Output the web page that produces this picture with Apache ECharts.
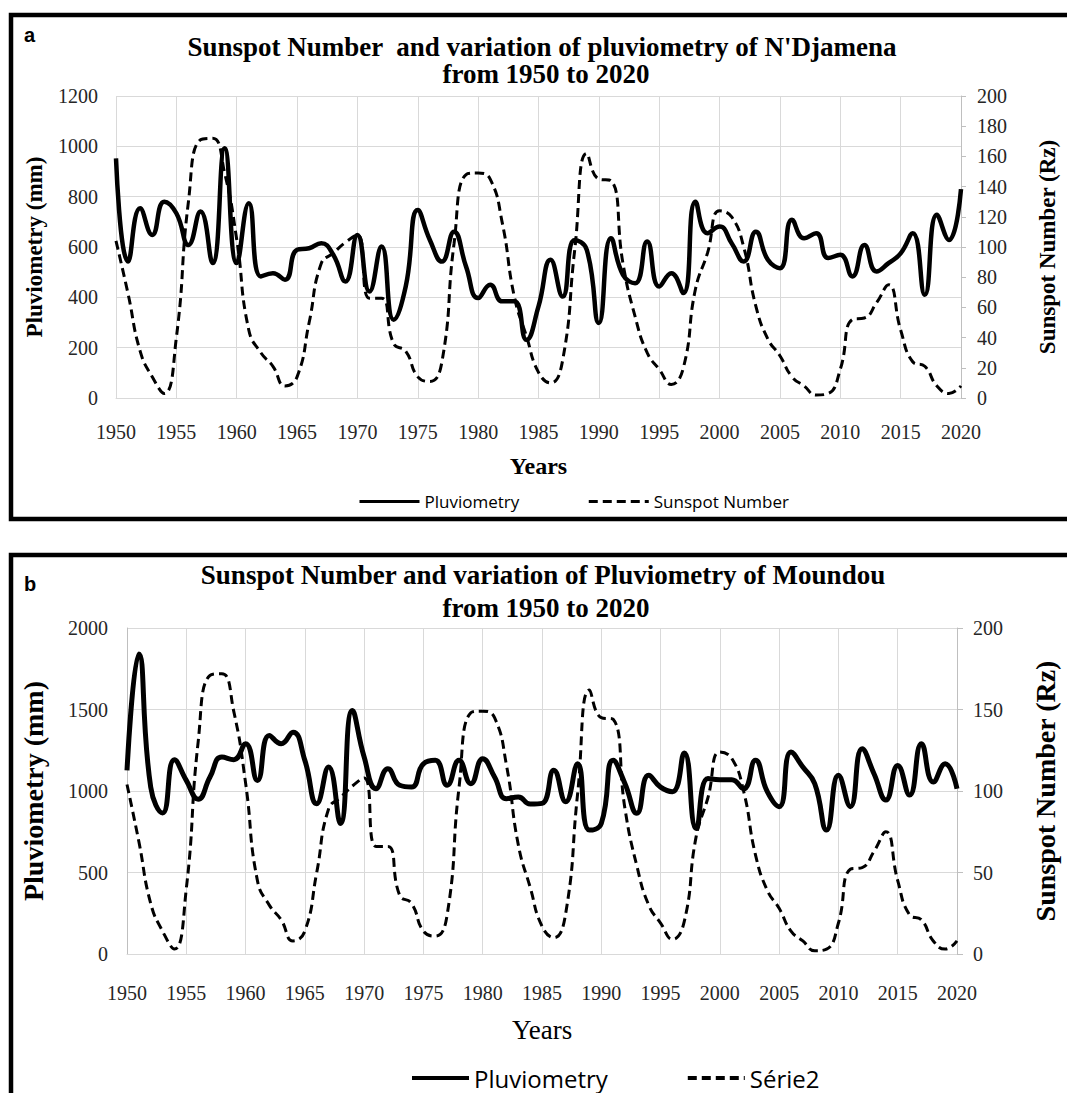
<!DOCTYPE html>
<html>
<head>
<meta charset="utf-8">
<script src="https://cdn.jsdelivr.net/npm/echarts@6/dist/echarts.min.js"></script>
<style>
  html, body { margin: 0; padding: 0; background: #fff; }
  #main { width: 1067px; height: 1093px; }
</style>
</head>
<body>
<div id="main"></div>
<script>
// years on the x axis
var years = ['1950', '1951', '1952', '1953', '1954', '1955', '1956', '1957', '1958', '1959',
  '1960', '1961', '1962', '1963', '1964', '1965', '1966', '1967', '1968', '1969',
  '1970', '1971', '1972', '1973', '1974', '1975', '1976', '1977', '1978', '1979',
  '1980', '1981', '1982', '1983', '1984', '1985', '1986', '1987', '1988', '1989',
  '1990', '1991', '1992', '1993', '1994', '1995', '1996', '1997', '1998', '1999',
  '2000', '2001', '2002', '2003', '2004', '2005', '2006', '2007', '2008', '2009',
  '2010', '2011', '2012', '2013', '2014', '2015', '2016', '2017', '2018', '2019',
  '2020']

// sunspot number (Rz), same curve in both panels
var sunspot = [104, 69, 31, 14, 3, 40, 130, 171, 172, 149,
  105, 45, 30, 21, 8, 14, 50, 89, 96, 103,
  108, 66, 66, 36, 31, 14, 11, 24, 102, 148,
  149, 145, 116, 67, 41, 17, 10, 25, 98, 162,
  145, 144, 89, 54, 30, 19, 9, 20, 72, 96,
  124, 120, 100, 61, 39, 28, 14, 8, 2, 3,
  19, 52, 53, 63, 75, 45, 24, 21, 8, 3,
  8]

// pluviometry N'Djamena (mm)
var pluvioNdjamena = [952, 542, 754, 648, 780, 734, 608, 741, 536, 992,
  536, 774, 483, 496, 470, 589, 595, 615, 569, 463,
  648, 423, 602, 311, 443, 747, 628, 542, 661, 522,
  397, 450, 384, 384, 231, 364, 549, 403, 628, 589,
  298, 635, 489, 456, 622, 443, 496, 417, 780, 655,
  681, 615, 542, 661, 549, 516, 708, 635, 655, 556,
  569, 483, 608, 503, 536, 575, 655, 410, 728, 628,
  830]

// pluviometry Moundou (mm)
var pluvioMoundou = [1127, 1841, 1024, 865, 1192, 1065, 950, 1086, 1208, 1192,
  1290, 1065, 1341, 1290, 1361, 1188, 922, 1147, 801, 1494,
  1208, 1014, 1137, 1035, 1024, 1167, 1188, 1035, 1188, 1045,
  1198, 1086, 953, 963, 920, 924, 1127, 934, 1167, 760,
  801, 1188, 1045, 863, 1096, 1024, 996, 1233, 770, 1076,
  1069, 1069, 1014, 1188, 996, 904, 1239, 1147, 1045, 760,
  1096, 904, 1259, 1106, 945, 1157, 975, 1290, 1055, 1167,
  1014]

var serif = 'Liberation Serif'
var gridColor = '#d9d9d9'
var labelColor = '#262626'

function plain(v) {
  return String(v) // no thousands separator, like the original
}

var chart = echarts.init(document.getElementById('main'), null, { renderer: 'svg' })

chart.setOption({
  backgroundColor: '#fff',
  animation: false,
  grid: [
    { left: 116, top: 96, width: 854, height: 302 },
    { left: 127, top: 628, width: 841, height: 326 }
  ],
  xAxis: [
    {
      gridIndex: 0,
      type: 'category',
      data: years,
      boundaryGap: false,
      axisLine: { lineStyle: { color: gridColor } },
      axisTick: { show: false },
      axisLabel: { interval: 4, margin: 24, color: labelColor, fontFamily: serif, fontSize: 20 },
      splitLine: { show: true, interval: 4, lineStyle: { color: gridColor } },
      name: 'Years',
      nameLocation: 'middle',
      nameGap: 56,
      nameTextStyle: { fontFamily: serif, fontWeight: 'bold', fontSize: 24, color: '#000' }
    },
    {
      gridIndex: 1,
      type: 'category',
      data: years,
      boundaryGap: false,
      axisLine: { lineStyle: { color: gridColor } },
      axisTick: { show: false },
      axisLabel: { interval: 4, margin: 29, color: labelColor, fontFamily: serif, fontSize: 20 },
      splitLine: { show: true, interval: 4, lineStyle: { color: gridColor } },
      name: 'Years',
      nameLocation: 'middle',
      nameGap: 62,
      nameTextStyle: { fontFamily: serif, fontSize: 27, color: '#000' }
    }
  ],
  yAxis: [
    {
      gridIndex: 0,
      type: 'value',
      min: 0,
      max: 1200,
      interval: 200,
      axisLine: { show: false },
      axisTick: { show: false },
      axisLabel: { margin: 18, color: labelColor, fontFamily: serif, fontSize: 20, formatter: plain },
      splitLine: { lineStyle: { color: gridColor } },
      name: 'Pluviometry (mm)',
      nameLocation: 'middle',
      nameRotate: 90,
      nameGap: 70,
      nameTextStyle: { fontFamily: serif, fontWeight: 'bold', fontSize: 23, color: '#000' }
    },
    {
      gridIndex: 0,
      type: 'value',
      position: 'right',
      min: 0,
      max: 200,
      interval: 20,
      axisLine: { show: true, lineStyle: { color: '#bfbfbf' } },
      axisTick: { show: true, length: 5, lineStyle: { color: '#bfbfbf' } },
      axisLabel: { margin: 16, color: labelColor, fontFamily: serif, fontSize: 20, formatter: plain },
      splitLine: { show: false },
      name: 'Sunspot Number (Rz)',
      nameLocation: 'middle',
      nameRotate: 90,
      nameGap: 75,
      nameTextStyle: { fontFamily: serif, fontWeight: 'bold', fontSize: 23, color: '#000' }
    },
    {
      gridIndex: 1,
      type: 'value',
      min: 0,
      max: 2000,
      interval: 500,
      axisLine: { show: true, lineStyle: { color: '#bfbfbf' } },
      axisTick: { show: false },
      axisLabel: { margin: 19, color: labelColor, fontFamily: serif, fontSize: 20, formatter: plain },
      splitLine: { lineStyle: { color: gridColor } },
      name: 'Pluviometry (mm)',
      nameLocation: 'middle',
      nameRotate: 90,
      nameGap: 80,
      nameTextStyle: { fontFamily: serif, fontWeight: 'bold', fontSize: 28, color: '#000' }
    },
    {
      gridIndex: 1,
      type: 'value',
      position: 'right',
      min: 0,
      max: 200,
      interval: 50,
      axisLine: { show: true, lineStyle: { color: '#bfbfbf' } },
      axisTick: { show: true, length: 6, lineStyle: { color: '#bfbfbf' } },
      axisLabel: { margin: 16, color: labelColor, fontFamily: serif, fontSize: 20, formatter: plain },
      splitLine: { show: false },
      name: 'Sunspot Number (Rz)',
      nameLocation: 'middle',
      nameRotate: 90,
      nameGap: 74,
      nameTextStyle: { fontFamily: serif, fontWeight: 'bold', fontSize: 28, color: '#000' }
    }
  ],
  legend: [
    {
      left: 353,
      top: 488,
      itemWidth: 60,
      itemHeight: 16,
      itemGap: 68,
      data: ['Pluviometry', 'Sunspot Number'],
      itemStyle: { opacity: 0 },
      lineStyle: { width: 3 },
      textStyle: { fontFamily: 'Open Sans', fontSize: 17, color: '#000' }
    },
    {
      left: 405,
      top: 1061,
      itemWidth: 57,
      itemHeight: 20,
      itemGap: 78,
      data: ['Pluviometry', 'Série2'],
      itemStyle: { opacity: 0 },
      lineStyle: { width: 4 },
      textStyle: { fontFamily: 'Open Sans', fontSize: 24, color: '#000' }
    }
  ],
  graphic: [
    // panel frames (right and lower sides run off the picture)
    { type: 'rect', shape: { x: 11, y: 15, width: 1070, height: 504 }, style: { fill: 'none', stroke: '#000', lineWidth: 4.5 }, silent: true },
    { type: 'rect', shape: { x: 11, y: 555, width: 1070, height: 600 }, style: { fill: 'none', stroke: '#000', lineWidth: 4.5 }, silent: true },
    { type: 'text', x: 24, y: 35, style: { text: 'a', fontFamily: 'Liberation Sans', fontWeight: 'bold', fontSize: 20, fill: '#000', verticalAlign: 'middle' } },
    { type: 'text', x: 24, y: 584, style: { text: 'b', fontFamily: 'Liberation Sans', fontWeight: 'bold', fontSize: 20, fill: '#000', verticalAlign: 'middle' } },
    { type: 'text', x: 542, y: 47, style: { text: 'Sunspot Number  and variation of pluviometry of N\'Djamena', fontFamily: serif, fontWeight: 'bold', fontSize: 27, fill: '#000', align: 'center', verticalAlign: 'middle' } },
    { type: 'text', x: 546, y: 74, style: { text: 'from 1950 to 2020', fontFamily: serif, fontWeight: 'bold', fontSize: 27, fill: '#000', align: 'center', verticalAlign: 'middle' } },
    { type: 'text', x: 543, y: 575, style: { text: 'Sunspot Number and variation of Pluviometry of Moundou', fontFamily: serif, fontWeight: 'bold', fontSize: 27, fill: '#000', align: 'center', verticalAlign: 'middle' } },
    { type: 'text', x: 546, y: 608, style: { text: 'from 1950 to 2020', fontFamily: serif, fontWeight: 'bold', fontSize: 27, fill: '#000', align: 'center', verticalAlign: 'middle' } }
  ],
  series: [
    {
      name: 'Sunspot Number',
      type: 'line',
      xAxisIndex: 0,
      yAxisIndex: 1,
      data: sunspot,
      smooth: 0.5,
      symbol: 'none',
      lineStyle: { color: '#000', width: 3, type: [9, 5] },
      itemStyle: { color: '#000' }
    },
    {
      name: 'Pluviometry',
      type: 'line',
      xAxisIndex: 0,
      yAxisIndex: 0,
      data: pluvioNdjamena,
      smooth: 0.5,
      symbol: 'none',
      lineStyle: { color: '#000', width: 4.5 },
      itemStyle: { color: '#000' }
    },
    {
      name: 'Série2',
      type: 'line',
      xAxisIndex: 1,
      yAxisIndex: 3,
      data: sunspot,
      smooth: 0.5,
      symbol: 'none',
      lineStyle: { color: '#000', width: 3, type: [9, 5] },
      itemStyle: { color: '#000' }
    },
    {
      name: 'Pluviometry',
      type: 'line',
      xAxisIndex: 1,
      yAxisIndex: 2,
      data: pluvioMoundou,
      smooth: 0.5,
      symbol: 'none',
      lineStyle: { color: '#000', width: 5 },
      itemStyle: { color: '#000' }
    }
  ]
})
</script>
</body>
</html>
